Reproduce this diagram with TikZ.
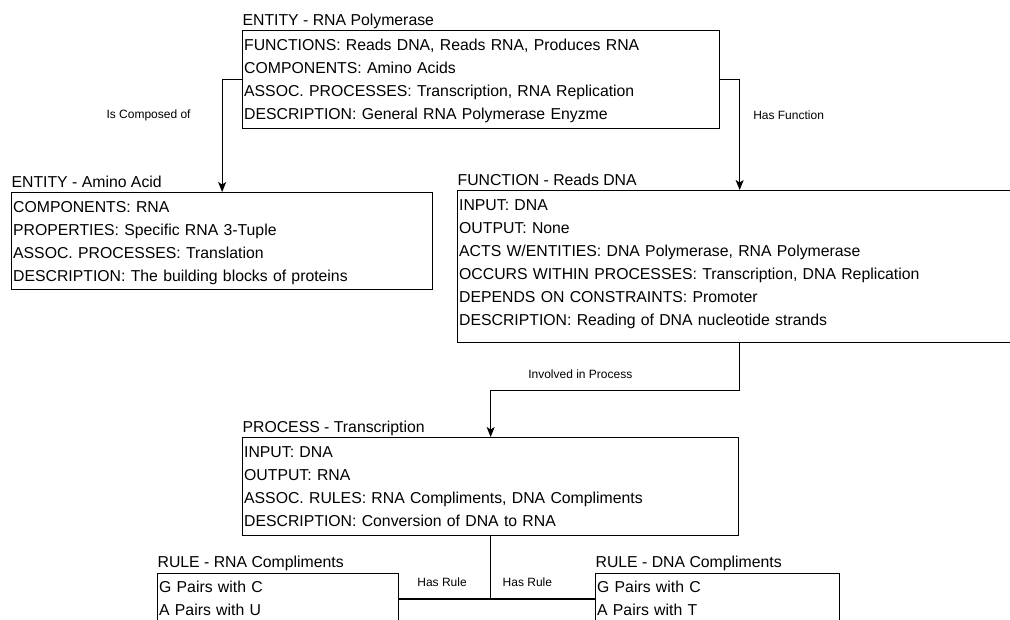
\documentclass[tikz,border=0pt]{standalone}
\usepackage{fontspec}
\setmainfont{Liberation Sans}
\usetikzlibrary{arrows.meta,positioning}

\tikzset{
   card/.style={draw, line width=1.3pt, anchor=north west, inner xsep=1.5pt, inner ysep=0pt,
      align=left, font=\fontsize{15.8}{23}\selectfont, text height=19.5pt},
   title/.style={anchor=base west, inner sep=0pt, font=\fontsize{15.8}{19}\selectfont},
   lbl/.style={inner sep=0pt, font=\fontsize{12}{14}\selectfont}
}

\begin{document}
\begin{tikzpicture}[x=1pt,y=-1pt,line width=1.2pt,>={Stealth[length=10pt,width=8pt,inset=2.5pt]}]
   \useasboundingbox (0,0) rectangle (1010,619);
   \clip (0,0) rectangle (1010,619);
   \node[card,text width=474pt,text depth=78.5pt] (rnapol) at (242,30)
      {FUNCTIONS: Reads DNA, Reads RNA, Produces RNA\\COMPONENTS: Amino Acids\\ASSOC. PROCESSES: Transcription, RNA Replication\\DESCRIPTION: General RNA Polymerase Enyzme};
   \node[card,text width=418pt,text depth=77.5pt] (amino) at (11,192)
      {COMPONENTS: RNA\\PROPERTIES: Specific RNA 3-Tuple\\ASSOC. PROCESSES: Translation\\DESCRIPTION: The building blocks of proteins};
   \node[card,text width=561pt,text depth=132.5pt] (readsdna) at (457,190)
      {INPUT: DNA\\OUTPUT: None\\ACTS W/ENTITIES: DNA Polymerase, RNA Polymerase\\OCCURS WITHIN PROCESSES: Transcription, DNA Replication\\DEPENDS ON CONSTRAINTS: Promoter\\DESCRIPTION: Reading of DNA nucleotide strands};
   \node[card,text width=493pt,text depth=78.5pt] (transcr) at (242,437)
      {INPUT: DNA\\OUTPUT: RNA\\ASSOC. RULES: RNA Compliments, DNA Compliments\\DESCRIPTION: Conversion of DNA to RNA};
   \node[card,text width=238pt,text depth=32pt] (rnacomp) at (157,572.5)
      {G Pairs with C\\A Pairs with U};
   \node[card,text width=241pt,text depth=32pt] (dnacomp) at (595,572.5)
      {G Pairs with C\\A Pairs with T};

   \node[title] (t_rnapol) at ([yshift=5pt]rnapol.north west) {ENTITY - RNA Polymerase};
   \node[title] (t_amino) at ([yshift=5pt]amino.north west) {ENTITY - Amino Acid};
   \node[title] (t_readsdna) at ([yshift=5pt]readsdna.north west) {FUNCTION - Reads DNA};
   \node[title] (t_transcr) at ([yshift=5pt]transcr.north west) {PROCESS - Transcription};
   \node[title] (t_rnacomp) at ([yshift=5pt]rnacomp.north west) {RULE - RNA Compliments};
   \node[title] (t_dnacomp) at ([yshift=5pt]dnacomp.north west) {RULE - DNA Compliments};

   \draw[->] (rnapol.west) -| node[lbl,pos=.66,left=31pt] (l_comp) {Is Composed of} (amino.north);
   \draw[->] (rnapol.east) -| node[lbl,pos=.66,right=13pt] (l_func) {Has Function} (readsdna.north);
   \draw[->] (readsdna.south) -- ++(0,47) -| node[lbl,pos=.32,above=11.5pt] (l_proc) {Involved in Process} (transcr.north);
   \draw (transcr.south) |- node[lbl,pos=.766,above=11.5pt] (l_rule1) {Has Rule} (rnacomp.east);
   \draw (transcr.south) |- node[lbl,pos=.676,above=11.5pt] (l_rule2) {Has Rule} (dnacomp.west);
\end{tikzpicture}
\end{document}
